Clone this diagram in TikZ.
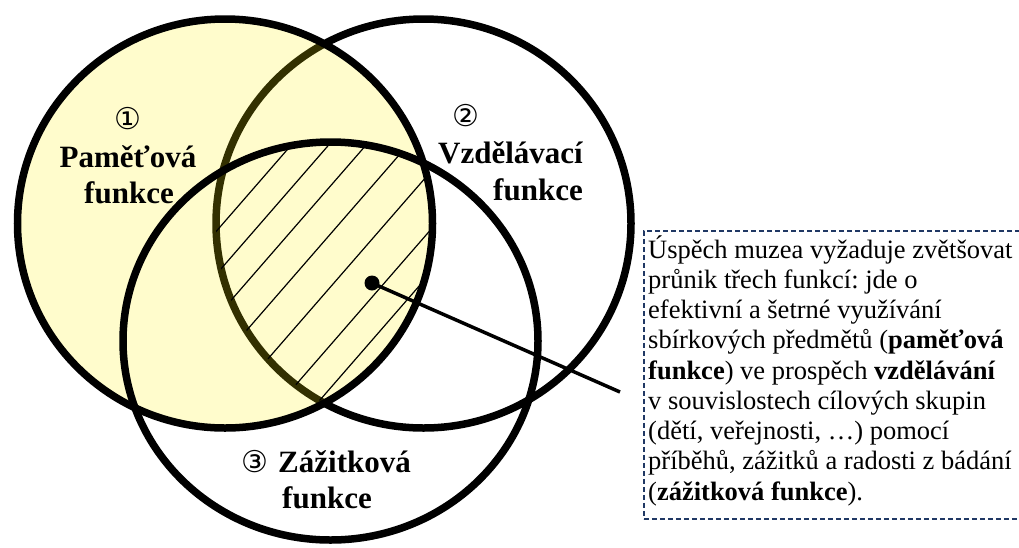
\documentclass[tikz,border=0pt]{standalone}
\usepackage{fontspec}
\setmainfont{Liberation Serif}
\newfontfamily\symfont{DejaVu Sans}
\definecolor{boxblue}{HTML}{203864}
\frenchspacing
\begin{document}
\begin{tikzpicture}[x=1pt,y=-1pt,
  ring/.style={draw=black,line width=7.5pt},
  hatchline/.style={draw=black,line width=1.2pt},
  label/.style={inner sep=0pt,font=\fontsize{31}{36}\selectfont\bfseries},
  numlabel/.style={inner sep=0pt,font=\symfont\fontsize{30}{30}\selectfont},
  notebox/.style={draw=boxblue,line width=1.6pt,dash pattern=on 5pt off 3pt,inner sep=0pt},
  notetext/.style={inner sep=0pt,anchor=base west,font=\fontsize{26.5}{30.25}\selectfont},
  dotstyle/.style={circle,fill=black,inner sep=0pt,minimum size=15pt},
  pointer/.style={draw=black,line width=3.5pt}]
\useasboundingbox (0,0) rectangle (1019,547);
\coordinate (c1) at (225,223.5);
\coordinate (c2) at (423.5,223.5);
\coordinate (c3) at (330.5,341);
% circle 2 (outline, under the yellow)
\draw[ring] (c2) ellipse[x radius=207.5pt,y radius=204.5pt];
% circle 1 yellow translucent fill
\fill[yellow,fill opacity=0.2] (c1) ellipse[x radius=207.5pt,y radius=204.5pt];
% hatching of triple intersection
\begin{scope}
  \clip (c1) ellipse[x radius=207.5pt,y radius=204.5pt];
  \clip (c2) ellipse[x radius=207.5pt,y radius=204.5pt];
  \clip (c3) ellipse[x radius=207.5pt,y radius=199pt];
  \foreach \c in {480,523,566,614,667,725,768}{
    \draw[hatchline] (100,\c-1.15*100) -- (600,\c-1.15*600);
  }
\end{scope}
\draw[ring] (c1) ellipse[x radius=207.5pt,y radius=204.5pt];
\draw[ring] (c3) ellipse[x radius=207.5pt,y radius=199pt];
% labels
\node[numlabel] (n1) at (128,119) {①};
\node[label,anchor=base] (l1a) at (128,167) {Paměťová};
\node[label,anchor=base] (l1b) at (129,203) {funkce};
\node[numlabel] (n2) at (466,116) {②};
\node[label,anchor=base east] (l2a) at (583,163) {Vzdělávací};
\node[label,anchor=base east] (l2b) at (583,200) {funkce};
\node[numlabel] (n3) at (255,462) {③};
\node[label,anchor=base west] (l3a) at (278,472) {Zážitková};
\node[label,anchor=base] (l3b) at (327,508) {funkce};
% note box
\node[notebox,anchor=north west,minimum width=380pt,minimum height=288pt] (box) at (643,230) {};
\node[notetext] (note) at (648,258) {\parbox[t]{370pt}{\raggedright
Úspěch muzea vyžaduje zvětšovat\\
průnik třech funkcí: jde o\\
efektivní a šetrné využívání\\
sbírkových předmětů (\textbf{paměťová}\\
\textbf{funkce}) ve prospěch \textbf{vzdělávání}\\
v souvislostech cílových skupin\\
(dětí, veřejnosti, …) pomocí\\
příběhů, zážitků a radosti z bádání\\
(\textbf{zážitková funkce}).}};
% pointer
\node[dotstyle] (dot) at (372,283) {};
\coordinate (tip) at (620,392);
\draw[pointer] (dot.center) -- (tip);
\end{tikzpicture}
\end{document}
